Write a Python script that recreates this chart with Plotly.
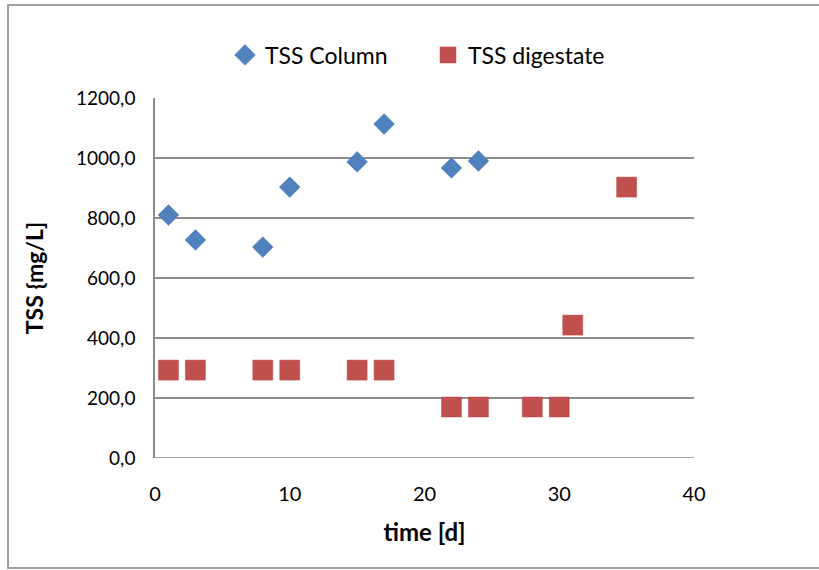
import plotly.graph_objects as go

# TSS measurements over time
column_days = [1, 3, 8, 10, 15, 17, 22, 24]
column_tss = [810, 727, 703, 903, 987, 1113, 967, 990]

digestate_days = [1, 3, 8, 10, 15, 17, 22, 24, 28, 30, 31, 35]
digestate_tss = [293, 293, 293, 293, 293, 293, 170, 170, 170, 170, 443, 903]

FONT = "Lato, 'Open Sans', sans-serif"
GRID = "#8c8c8c"

L, R, T, B = 155, 694, 98, 458
W, H = 819, 570
pw, ph = R - L, B - T

fig = go.Figure()
fig.add_trace(go.Scatter(
    x=column_days, y=column_tss, mode="markers", name="TSS Column",
    marker=dict(symbol="diamond", size=16, color="#4F81BD",
                line=dict(width=0.5, color="#4A7EBB")),
    legend="legend",
))
fig.add_trace(go.Scatter(
    x=digestate_days, y=digestate_tss, mode="markers", name="TSS digestate",
    marker=dict(symbol="square", size=20, color="#C0504D",
                line=dict(width=0.5, color="#BE4B48")),
    legend="legend2",
))

legend_y = 1.0 + (T - 55) / ph
legend_common = dict(yanchor="middle", xanchor="left", y=legend_y,
                     font=dict(size=23, family=FONT), itemwidth=30,
                     bgcolor="rgba(0,0,0,0)")

fig.update_layout(
    width=W, height=H,
    margin=dict(l=L, r=W - R, t=T, b=H - B),
    paper_bgcolor="white", plot_bgcolor="white",
    separators=",.",
    font=dict(family=FONT, size=19, color="#000000"),
    showlegend=True,
    legend=dict(x=(225 - L) / pw, **legend_common),
    legend2=dict(x=(428 - L) / pw, **legend_common),
    xaxis=dict(range=[0, 40], tickvals=[0, 10, 20, 30, 40], showgrid=False,
               zeroline=False, showline=False, ticks="",
               tickfont=dict(size=20), ticklabelstandoff=22,
               title=dict(text="<b>time [d]</b>", font=dict(size=24), standoff=20)),
    yaxis=dict(range=[0, 1200], tickvals=[0, 200, 400, 600, 800, 1000, 1200],
               tickformat=".1f", showgrid=True, gridcolor=GRID, gridwidth=1.5,
               zeroline=False, showline=True, linecolor=GRID, linewidth=1.5,
               ticks="", tickfont=dict(size=19), ticklabelstandoff=14,
               title=dict(text="<b>TSS {mg/L]</b>", font=dict(size=23), standoff=26)),
    shapes=[
        # baseline at y = 0
        dict(type="line", xref="paper", yref="y", x0=0, x1=1, y0=0, y1=0,
             line=dict(color=GRID, width=1.5), layer="below"),
        # outer chart frame
        dict(type="rect", xref="paper", yref="paper",
             x0=(8 - L) / pw, x1=(830 - L) / pw,
             y0=(B - 568) / ph, y1=(B - 5) / ph,
             line=dict(color="#a0a0a0", width=2)),
    ],
)

fig.write_html("out.html")
